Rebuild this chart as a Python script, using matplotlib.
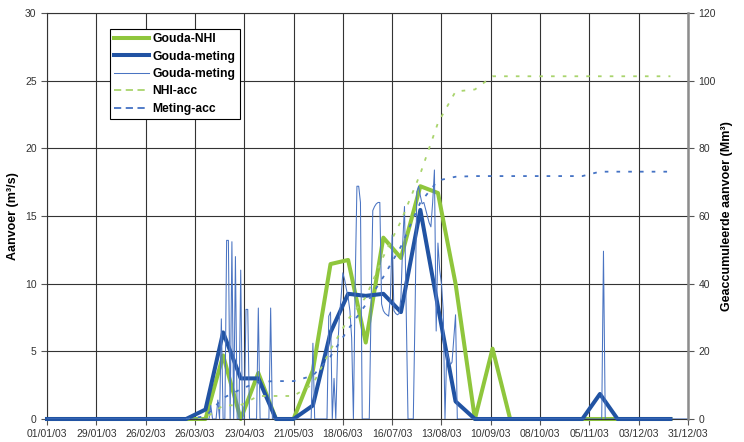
import pandas as pd
import matplotlib
matplotlib.use("Agg")
import matplotlib.pyplot as plt
from matplotlib.lines import Line2D

plt.rcParams['font.family'] = ['Liberation Sans', 'DejaVu Sans']

# --- data ---
# decade points: 1st, 11th and 21st of every month
decade_dates = pd.to_datetime([f"2003-{m:02d}-{d:02d}" for m in range(1, 13) for d in (1, 11, 21)])

gouda_nhi = [0, 0, 0,  0, 0, 0,  0, 0, 0,        # jan - mrt
             0, 4.7, 0,                          # apr
             3.4, 0, 0,                          # mei
             3.6, 11.45, 11.75,                  # jun
             5.65, 13.4, 11.9,                   # jul
             17.2, 16.7, 10.0,                   # aug
             0, 5.2, 0,                          # sep
             0, 0, 0,  0, 0, 0,  0, 0, 0]        # okt - dec

gouda_meting = [0, 0, 0,  0, 0, 0,  0, 0, 0,
                0.7, 6.4, 3.0,
                3.0, 0, 0,
                1.0, 6.4, 9.25,
                9.1, 9.25, 7.9,
                15.45, 8.3, 1.3,
                0, 0, 0,
                0, 0, 0,
                0, 1.85, 0,
                0, 0, 0]

# accumulated volumes (Mm3), from 21 March onwards
acc_dates = decade_dates[8:]
nhi_acc = [0,
           0.3, 4.0, 4.1,
           6.8, 6.8, 6.8,
           10.3, 20.5, 29.5,
           36.0, 48.0, 58.5,
           72.5, 87.5, 96.8,
           97.4, 101.3, 101.3,
           101.3, 101.3, 101.3,
           101.3, 101.3, 101.3,
           101.3, 101.3, 101.3]
meting_acc = [0,
              0.8, 6.2, 8.8,
              11.0, 11.2, 11.2,
              12.8, 18.5, 26.5,
              33.8, 42.0, 51.0,
              64.0, 70.5, 71.6,
              71.8, 71.8, 71.8,
              71.8, 71.8, 71.8,
              71.8, 73.1, 73.1,
              73.1, 73.1, 73.1]

# daily measurements (m3/s), zero outside the listed periods
daily_start = "2003-04-01"
daily_apr_aug = [0, 0, 0, 1.0, 0, 0, 0, 1.4, 0, 7.4,
                 0, 0, 13.2, 13.2, 0, 13.1, 0, 12.0, 0, 0,
                 11.0, 0, 0, 8.1, 8.1, 0, 0, 0, 0, 0,
                 8.2, 0, 0, 0, 0, 0, 0, 8.2, 0, 0,
                 0, 0, 0, 0, 0, 0, 0, 0, 0, 0,
                 0, 0, 0, 0, 0, 0, 0, 0, 0, 0,
                 0, 5.6, 0, 0, 0, 0, 0, 0, 0, 0,
                 7.6, 7.9, 0, 3.0, 0, 5.0, 7.5, 9.0, 10.8, 10.3,
                 9.6, 9.0, 8.0, 6.0, 0, 10.0, 17.2, 17.2, 16.0, 0,
                 0, 0, 0, 0, 8.0, 15.4, 15.7, 15.9, 16.0, 16.0,
                 8.5, 8.0, 7.8, 7.7, 7.6, 9.0, 13.6, 8.0, 7.8, 7.7,
                 7.8, 9.0, 13.0, 15.7, 8.0, 0, 0, 0, 0, 7.9,
                 16.8, 17.2, 16.5, 15.9, 16.0, 15.5, 15.0, 14.5, 14.2, 16.0,
                 18.4, 6.5, 13.0, 11.0, 10.0, 8.0, 0, 5.0, 4.5, 4.0,
                 4.2, 6.0, 7.7, 0]
daily_nov_start = "2003-11-13"
daily_nov = [12.4]

days = pd.date_range("2003-01-01", "2003-12-31", freq="D")
daily = pd.Series(0.0, index=days)
daily.loc[pd.date_range(daily_start, periods=len(daily_apr_aug))] = daily_apr_aug
daily.loc[pd.date_range(daily_nov_start, periods=len(daily_nov))] = daily_nov

tick_dates = pd.date_range("2003-01-01", periods=14, freq="28D")

# --- kleuren ---
c_nhi = "#8fc63c"
c_meting = "#2153a3"
c_daily = "#4a74c2"
c_nhi_acc = "#a9d46c"
c_meting_acc = "#4472c4"

fig = plt.figure(figsize=(7.44, 4.42), dpi=100)
ax = fig.add_axes([47 / 744, 23 / 442, 641 / 744, 406 / 442])
ax2 = ax.twinx()

l1, = ax.plot(decade_dates, gouda_nhi, color=c_nhi, lw=2.9, clip_on=False, zorder=2)
l2, = ax.plot(decade_dates, gouda_meting, color=c_meting, lw=2.9, clip_on=False, zorder=3)
l3, = ax.plot(daily.index, daily.values, color=c_daily, lw=0.75, zorder=4)

ax2.plot(acc_dates, nhi_acc, color=c_nhi_acc, lw=1.3, ls=(0, (2, 4.5)))
ax2.plot(acc_dates, meting_acc, color=c_meting_acc, lw=1.3, ls=(0, (2, 4.5)))

ax.set_xlim(pd.Timestamp("2003-01-01"), pd.Timestamp("2003-12-31"))
ax.set_ylim(0, 30)
ax2.set_ylim(0, 120)

ax.set_xticks(tick_dates)
ax.set_xticklabels([d.strftime("%d/%m/%y") for d in tick_dates])
ax.set_yticks(range(0, 31, 5))
ax2.set_yticks(range(0, 121, 20))

ax.grid(True, color="#333333", lw=0.8)
ax.set_axisbelow(True)

for a in (ax, ax2):
    a.tick_params(direction="out", length=4, width=0.8, color="#555555",
                  labelsize=7.5, labelcolor="#333333")
for s in ("left", "bottom", "top"):
    ax.spines[s].set_color("#333333")
    ax.spines[s].set_linewidth(0.8)
ax.spines["right"].set_visible(False)
ax2.spines["right"].set_color("#8c8c8c")
ax2.spines["right"].set_linewidth(1.8)
for s in ("left", "bottom", "top"):
    ax2.spines[s].set_visible(False)

ax.set_ylabel("Aanvoer (m³/s)", fontsize=9, fontweight="bold")
ax2.set_ylabel("Geaccumuleerde aanvoer (Mm³)", fontsize=9, fontweight="bold")

# legenda
h4 = Line2D([], [], color=c_nhi_acc, lw=1.3, ls=(0, (4, 2.5)))
h5 = Line2D([], [], color=c_meting_acc, lw=1.3, ls=(0, (4, 2.5)))
leg = ax2.legend([l1, l2, l3, h4, h5],
                 ["Gouda-NHI", "Gouda-meting", "Gouda-meting", "NHI-acc", "Meting-acc"],
                 loc="upper left", bbox_to_anchor=(0.098, 0.961), borderaxespad=0,
                 fancybox=False, edgecolor="black", framealpha=1,
                 prop={"weight": "bold", "size": 8.7},
                 handlelength=2.9, handletextpad=0.3, labelspacing=0.45, borderpad=0.35)
leg.get_frame().set_linewidth(0.8)

fig.savefig("out.png", dpi=100)
